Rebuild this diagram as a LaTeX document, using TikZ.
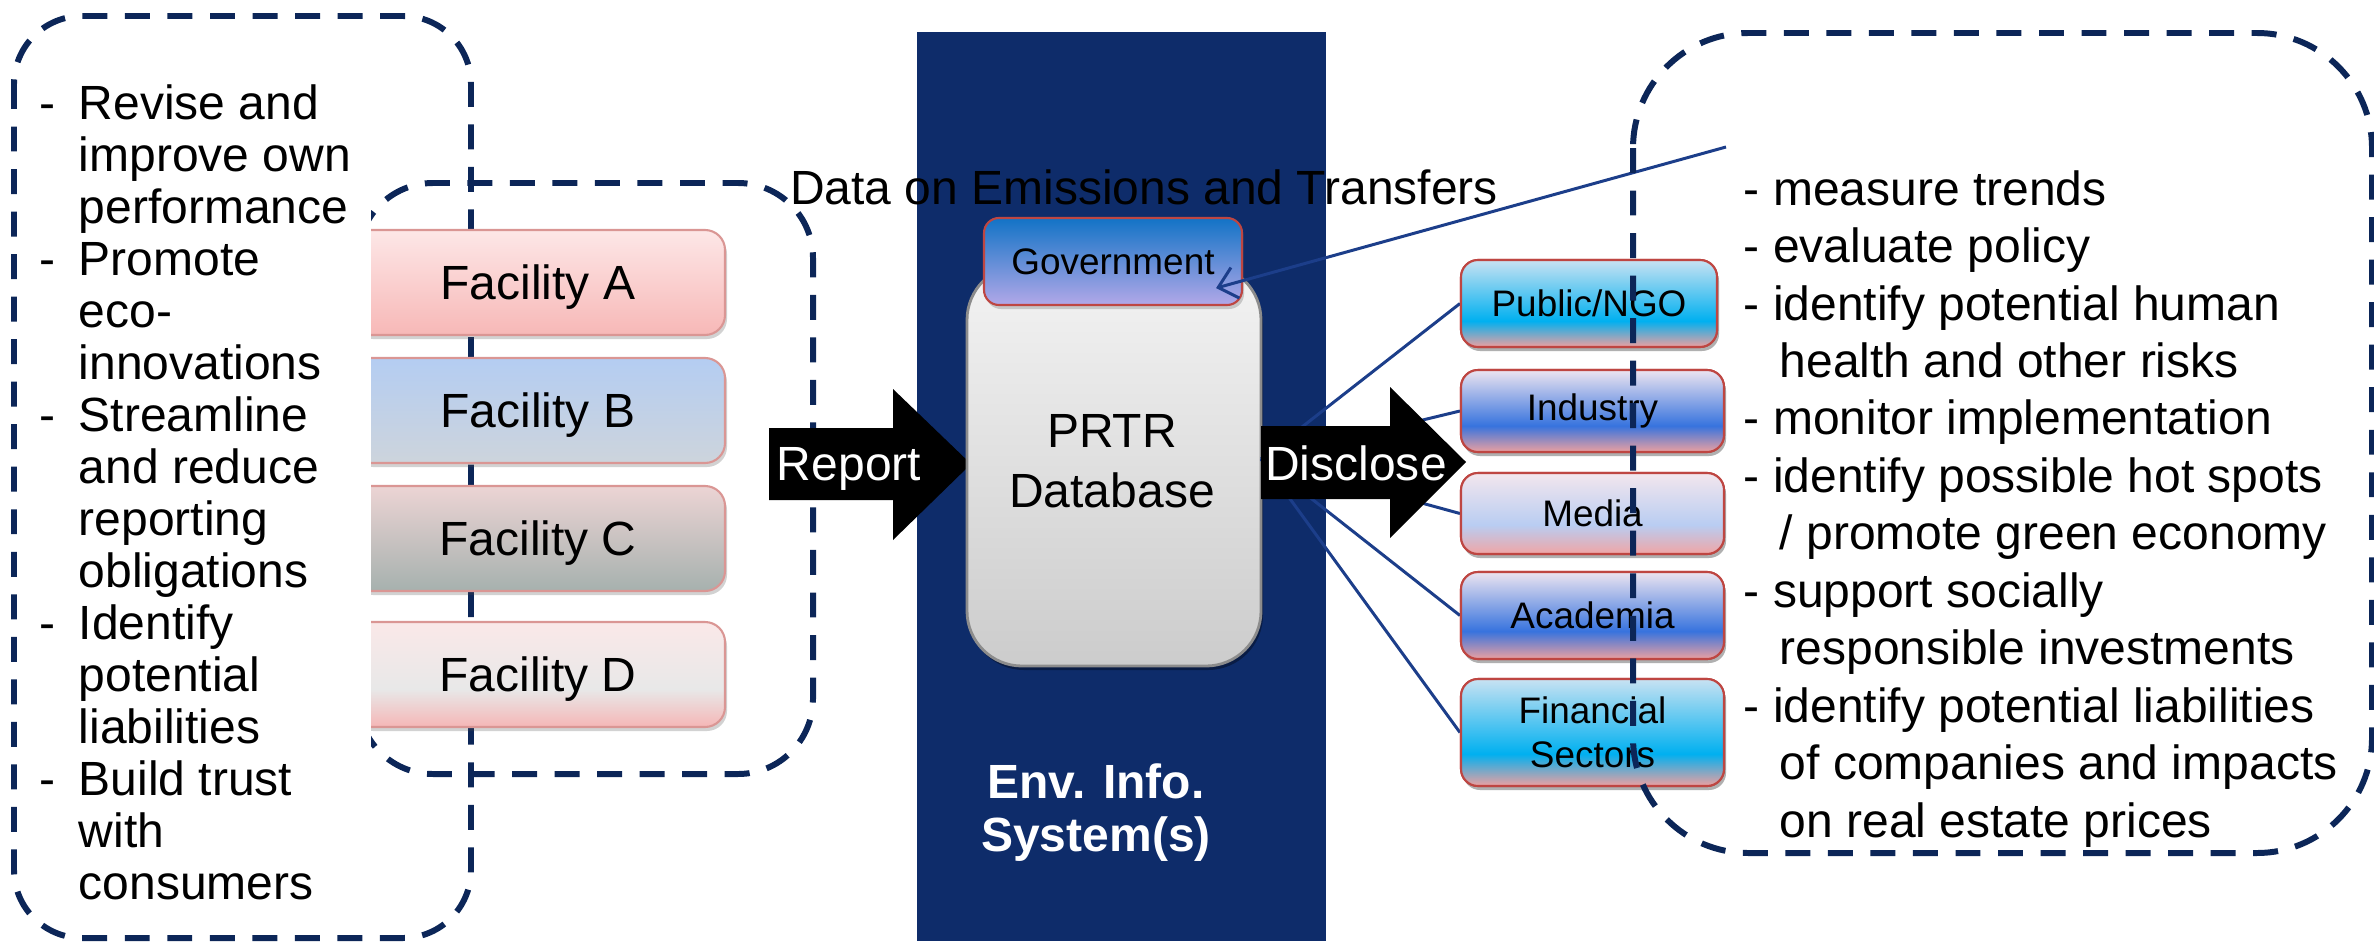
\documentclass[tikz,border=0pt]{standalone}
\usepackage{fontspec}
\setmainfont{Liberation Sans}
\usetikzlibrary{arrows.meta,shadows,calc}

\definecolor{navy}{RGB}{14,44,106}
\definecolor{dashc}{RGB}{12,38,88}
\definecolor{connc}{RGB}{28,62,138}
\definecolor{facborder}{RGB}{218,150,148}
\definecolor{redborder}{RGB}{190,70,66}
\definecolor{faAt}{RGB}{253,231,231}
\definecolor{faAb}{RGB}{247,184,183}
\definecolor{faBt}{RGB}{180,205,242}
\definecolor{faBb}{RGB}{205,212,220}
\definecolor{faCt}{RGB}{236,212,212}
\definecolor{faCb}{RGB}{166,177,174}
\definecolor{faDt}{RGB}{250,232,232}
\definecolor{faDm}{RGB}{232,232,232}
\definecolor{faDb}{RGB}{245,182,182}
\definecolor{cbTop}{RGB}{200,226,242}
\definecolor{cbMid}{RGB}{0,176,240}
\definecolor{cbBot}{RGB}{238,160,160}
\definecolor{bbTop}{RGB}{236,228,240}
\definecolor{bbMid}{RGB}{55,115,222}
\definecolor{bbBot}{RGB}{236,160,160}
\definecolor{mbTop}{RGB}{243,230,237}
\definecolor{mbMid}{RGB}{185,205,242}
\definecolor{mbBot}{RGB}{240,165,165}
\definecolor{govTop}{RGB}{18,115,198}
\definecolor{govBot}{RGB}{178,168,232}
\definecolor{dbTop}{RGB}{243,243,243}
\definecolor{dbBot}{RGB}{204,204,204}
\definecolor{dbBorder}{RGB}{140,140,140}

\pgfdeclareverticalshading{cyanbox}{100bp}{color(0bp)=(cbBot); color(25bp)=(cbBot); color(40bp)=(cbMid); color(75bp)=(cbTop); color(100bp)=(cbTop)}
\pgfdeclareverticalshading{bluebox}{100bp}{color(0bp)=(bbBot); color(25bp)=(bbBot); color(41bp)=(bbMid); color(75bp)=(bbTop); color(100bp)=(bbTop)}
\pgfdeclareverticalshading{mediabox}{100bp}{color(0bp)=(mbBot); color(25bp)=(mbBot); color(43bp)=(mbMid); color(75bp)=(mbTop); color(100bp)=(mbTop)}
\pgfdeclareverticalshading{facdshade}{100bp}{color(0bp)=(faDb); color(25bp)=(faDb); color(43bp)=(faDm); color(75bp)=(faDt); color(100bp)=(faDt)}

\tikzset{
  dashbox/.style={draw=dashc, line width=1.7pt, dash pattern=on 7.1pt off 5.0pt},
  softshadow/.style={drop shadow={shadow xshift=0.02cm, shadow yshift=-0.04cm, opacity=0.25, fill=black!70}},
  fac/.style={draw=facborder, line width=0.6pt, rounded corners=0.2cm, minimum width=3.74cm, minimum height=1.05cm, inner sep=0pt, font=\fontsize{13.66}{16}\selectfont, text height=9.78pt, text depth=0pt, softshadow},
  stake/.style={draw=redborder, line width=0.6pt, rounded corners=0.17cm, minimum width=2.63cm, inner sep=0pt, font=\fontsize{10.5}{12.5}\selectfont, align=center, softshadow},
  conn/.style={draw=connc, line width=0.85pt},
  bigtext/.style={font=\fontsize{13.66}{16}\selectfont, inner sep=0pt},
  blockarrow/.style={fill=black, draw=none}
}

\begin{document}
\begin{tikzpicture}[x=1cm,y=1cm]
\useasboundingbox (0,0) rectangle (23.74,-9.41);

% central navy band
\fill[navy] (9.17,-0.32) rectangle (13.26,-9.41);

% left outer dashed box
\draw[dashbox, rounded corners=0.68cm] (0.14,-0.16) rectangle (4.71,-9.38);

% left list
\node[anchor=base west, inner sep=0pt, font=\fontsize{13.66}{14.8}\selectfont] (leftlist) at (0.39,-1.19) {\begin{tabular}[t]{@{}p{0.39cm}@{}l@{}}
- & Revise and\\
 & improve own\\
 & performance\\
- & Promote\\
 & eco-\\
 & innovations\\
- & Streamline\\
 & and reduce\\
 & reporting\\
 & obligations\\
- & Identify\\
 & potential\\
 & liabilities\\
- & Build trust\\
 & with\\
 & consumers
\end{tabular}};

% facilities and inner dashed box (left side cut)
\begin{scope}
\clip (3.71,0) rectangle (23.74,-9.41);
\draw[dashbox, rounded corners=0.75cm] (3.58,-1.83) rectangle (8.13,-7.74);
\node[fac, top color=faAt, bottom color=faAb] (facA) at (5.38,-2.825) {Facility A};
\node[fac, top color=faBt, bottom color=faBb] (facB) at (5.38,-4.105) {Facility B};
\node[fac, top color=faCt, bottom color=faCb] (facC) at (5.38,-5.385) {Facility C};
\node[fac, shade, shading=facdshade] (facD) at (5.38,-6.745) {Facility D};
\end{scope}

% Report arrow
\fill[blockarrow] (7.69,-4.28) -- (8.93,-4.28) -- (8.93,-3.89) -- (9.71,-4.64) -- (8.93,-5.40) -- (8.93,-5.00) -- (7.69,-5.00) -- cycle;
\node[bigtext, text=white, anchor=base] (report) at (8.49,-4.80) {Report};

% database
\node[draw=dbBorder, line width=0.8pt, rounded corners=0.55cm, top color=dbTop, bottom color=dbBot, minimum width=2.94cm, minimum height=4.01cm, inner sep=0pt, drop shadow={shadow xshift=0.02cm, shadow yshift=-0.04cm, opacity=0.35, fill=black}] (db) at (11.14,-4.655) {};
\node[anchor=base, inner sep=0pt, font=\fontsize{13.66}{17.1}\selectfont] (dbtext) at (11.12,-4.47) {\begin{tabular}[t]{@{}c@{}}PRTR\\Database\end{tabular}};

% government
\node[draw=redborder, line width=0.6pt, rounded corners=0.15cm, top color=govTop, bottom color=govBot, minimum width=2.58cm, minimum height=0.87cm, inner sep=0pt, font=\fontsize{10.5}{12.5}\selectfont, text height=7.52pt, text depth=0pt, softshadow] (gov) at (11.13,-2.615) {Government};

% Env. Info. System(s)
\node[anchor=base, inner sep=0pt, text=white, font=\bfseries\fontsize{13.66}{15.1}\selectfont] (env) at (10.96,-7.98) {\begin{tabular}[t]{@{}c@{}}Env. Info.\\System(s)\end{tabular}};

% title
\node[bigtext, anchor=base] (datatitle) at (11.44,-2.04) {Data on Emissions and Transfers};

% stakeholder nodes
\node[stake, shade, shading=cyanbox, minimum width=2.56cm, minimum height=0.87cm] (pub) at (15.89,-3.035) {Public/NGO};
\node[stake, shade, shading=bluebox, minimum height=0.82cm] (ind) at (15.925,-4.11) {Industry};
\node[stake, shade, shading=mediabox, minimum height=0.81cm] (med) at (15.925,-5.135) {Media};
\node[stake, shade, shading=bluebox, minimum height=0.87cm] (aca) at (15.925,-6.155) {Academia};
\node[stake, shade, shading=cyanbox, minimum height=1.07cm] (fin) at (15.925,-7.325) {Financial\\Sectors};

% connectors
\coordinate (hub) at (12.61,-4.59);
\coordinate (govsrc) at (17.26,-1.47);
\draw[conn] (hub) -- (pub.west);
\draw[conn] (hub) -- (ind.west);
\draw[conn] (hub) -- (med.west);
\draw[conn] (hub) -- (aca.west);
\draw[conn] (hub) -- (fin.west);
\draw[conn, -{Straight Barb[length=5pt, width=9pt]}] (govsrc) -- ($(gov.south east)+(-0.27,0.18)$);

% Disclose arrow
\fill[blockarrow] (12.61,-4.26) -- (13.90,-4.26) -- (13.90,-3.87) -- (14.66,-4.62) -- (13.90,-5.38) -- (13.90,-4.99) -- (12.61,-4.99) -- cycle;
\node[bigtext, text=white, anchor=base] (disclose) at (13.56,-4.80) {Disclose};

% stakeholder boxes drawn again above the connectors
\node[stake, shade, shading=cyanbox, minimum width=2.56cm, minimum height=0.87cm] (pub2) at (pub) {Public/NGO};
\node[stake, shade, shading=bluebox, minimum height=0.82cm] (ind2) at (ind) {Industry};
\node[stake, shade, shading=mediabox, minimum height=0.81cm] (med2) at (med) {Media};
\node[stake, shade, shading=bluebox, minimum height=0.87cm] (aca2) at (aca) {Academia};
\node[stake, shade, shading=cyanbox, minimum height=1.07cm] (fin2) at (fin) {Financial\\Sectors};

% right dashed box
\draw[dashbox, rounded corners=1.15cm] (16.33,-0.33) rectangle (23.72,-8.53);

% right list
\node[anchor=base west, inner sep=0pt, font=\fontsize{13.66}{16.36}\selectfont] (rightlist) at (17.43,-2.05) {\begin{tabular}[t]{@{}l@{}}
- measure trends\\
- evaluate policy\\
- identify potential human\\
\hspace*{0.36cm}health and other risks\\
- monitor implementation\\
- identify possible hot spots\\
\hspace*{0.36cm}/ promote green economy\\
- support socially\\
\hspace*{0.36cm}responsible investments\\
- identify potential liabilities\\
\hspace*{0.36cm}of companies and impacts\\
\hspace*{0.36cm}on real estate prices
\end{tabular}};

\end{tikzpicture}
\end{document}
